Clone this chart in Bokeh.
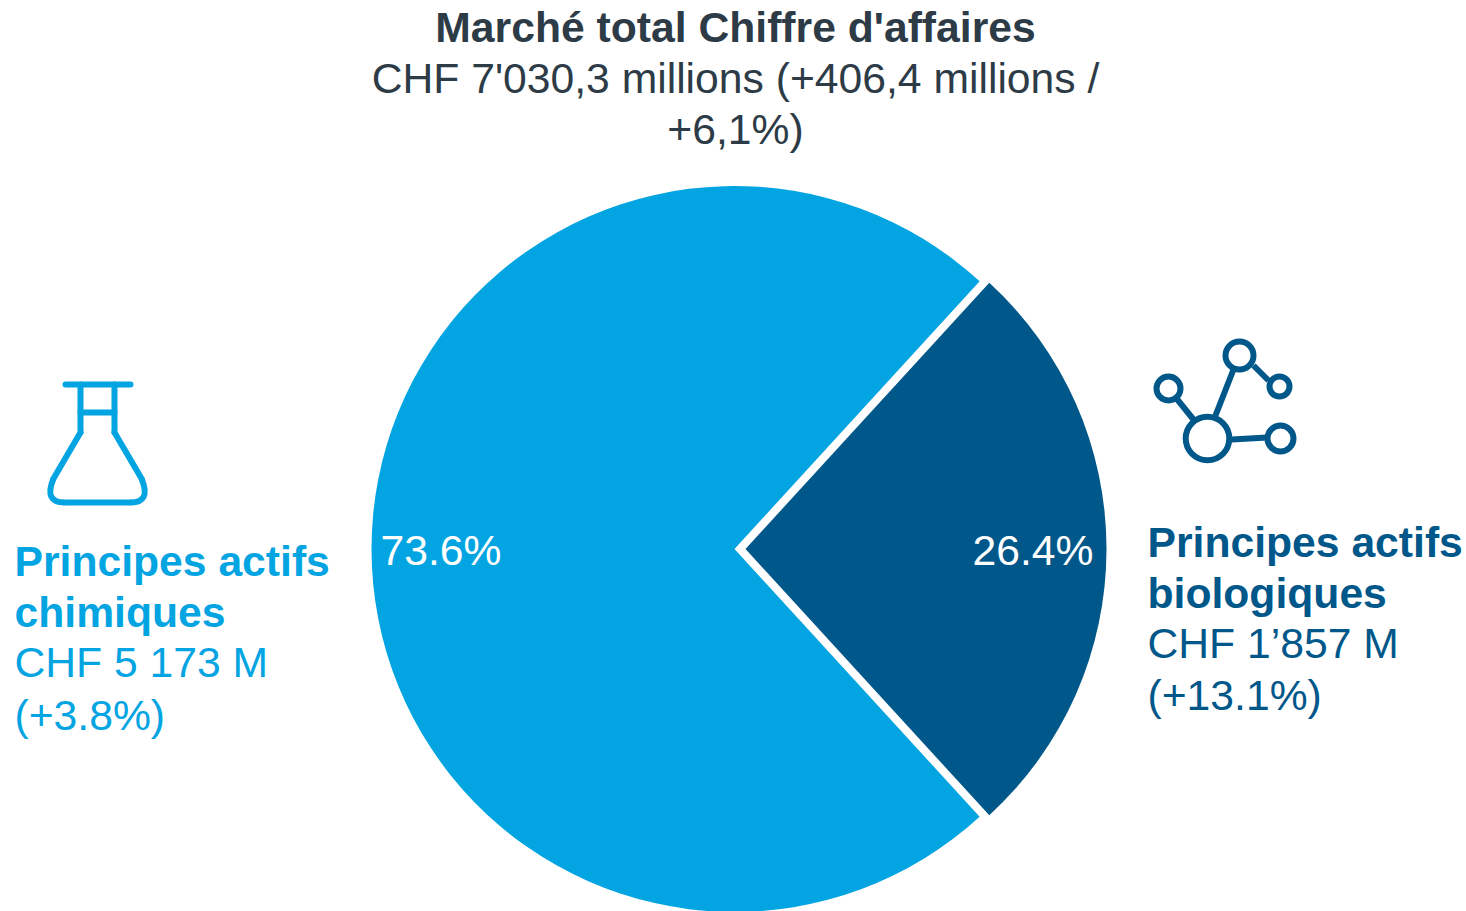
from math import pi
from bokeh.plotting import figure
from bokeh.models import Range1d
from bokeh.embed import file_html
from bokeh.resources import INLINE
from bokeh.core.properties import value

# --- chart data ---
segments = ["Principes actifs chimiques", "Principes actifs biologiques"]
shares = [73.6, 26.4]
share_labels = ["73.6%", "26.4%"]
title_bold = "Marché total Chiffre d'affaires"
title_lines = ["CHF 7'030,3 millions (+406,4 millions /", "+6,1%)"]
left_bold = ["Principes actifs", "chimiques"]
left_lines = ["CHF 5 173 M", "(+3.8%)"]
right_bold = ["Principes actifs", "biologiques"]
right_lines = ["CHF 1’857 M", "(+13.1%)"]

LIGHT, DARK, INK = "#03a4e2", "#00578a", "#2d3b47"
FONT = value("Liberation Sans")
FS = "42.67px"
W, H = 1466, 911


def Y(py):
    return H - py


p = figure(width=W, height=H, x_range=Range1d(0, W), y_range=Range1d(0, H),
           output_backend="svg", toolbar_location=None, min_border=0,
           outline_line_color=None, background_fill_color="white", border_fill_color="white")
p.axis.visible = False
p.grid.visible = False

# exploded pie: each slice has its own centre, which leaves the white gap
cy = Y(548.5)
half = shares[1] / sum(shares) * pi
p.wedge(x=734, y=cy, radius=363, start_angle=half, end_angle=2 * pi - half,
        fill_color=LIGHT, line_color=None)
p.wedge(x=745, y=cy, radius=361, start_angle=-half, end_angle=half,
        fill_color=DARK, line_color=None)

BASE_FIX = 16


def txt(x, py, s, color=INK, bold=False, align="left"):
    p.text(x=[x], y=[Y(py - BASE_FIX)], text=[s], text_color=color, text_font=FONT, text_font_size=FS,
           text_font_style="bold" if bold else "normal", text_align=align,
           text_baseline="alphabetic")


txt(735, 42, title_bold, bold=True, align="center")
txt(735, 93, title_lines[0], align="center")
txt(735, 144, title_lines[1], align="center")

txt(380, 565, share_labels[0], color="white")
txt(972, 565, share_labels[1], color="white")

txt(14, 576, left_bold[0], LIGHT, True)
txt(14, 627, left_bold[1], LIGHT, True)
txt(14, 677, left_lines[0], LIGHT)
txt(14, 730, left_lines[1], LIGHT)

txt(1147, 557, right_bold[0], DARK, True)
txt(1147, 608, right_bold[1], DARK, True)
txt(1147, 658, right_lines[0], DARK)
txt(1147, 710, right_lines[1], DARK)

# flask icon
ICON_W = 6
flask_xs = [[65, 130], [80, 80], [114, 114], [80, 114]]
flask_ys = [[384, 384], [384, 432], [384, 432], [412, 412]]
p.multi_line(xs=flask_xs, ys=[[Y(v) for v in ys] for ys in flask_ys], line_color=LIGHT,
             line_width=ICON_W, line_cap="round")
p.line(x=[80, 53], y=[Y(432), Y(478)], line_color=LIGHT, line_width=ICON_W, line_cap="round")
p.line(x=[114, 141], y=[Y(432), Y(478)], line_color=LIGHT, line_width=ICON_W, line_cap="round")
p.line(x=[64, 130], y=[Y(502), Y(502)], line_color=LIGHT, line_width=ICON_W, line_cap="round")
p.quadratic(x0=[53, 141], y0=[Y(478)] * 2, x1=[64, 130], y1=[Y(502)] * 2,
            cx=[43, 151], cy=[Y(502)] * 2, line_color=LIGHT, line_width=ICON_W)

# molecule icon
p.multi_line(xs=[[1215, 1233], [1253, 1268], [1176, 1193], [1231, 1267]],
             ys=[[Y(415), Y(369)], [Y(365), Y(380)], [Y(398), Y(419)], [Y(439), Y(437)]],
             line_color=DARK, line_width=ICON_W)
p.circle(x=[1207, 1239, 1279, 1168, 1280], y=[Y(438), Y(355), Y(386), Y(388), Y(438)],
         radius=[21.8, 14, 10, 12, 13], fill_color=None, line_color=DARK, line_width=ICON_W)

open("out.html", "w").write(file_html(p, INLINE))
